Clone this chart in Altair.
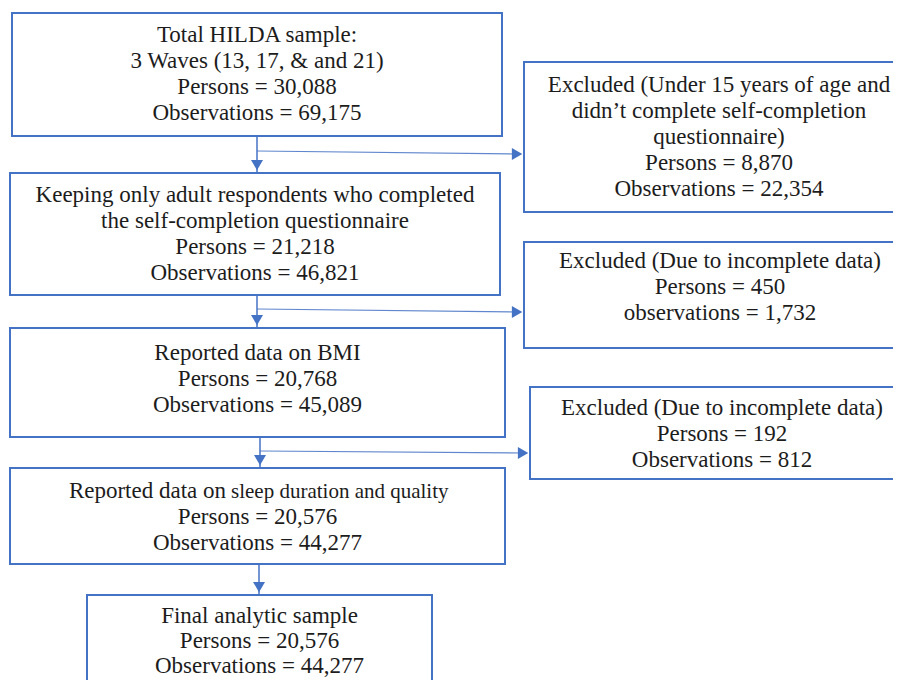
import altair as alt
import pandas as pd

# ---------------- content (text of the flow chart) ----------------
main_titles = [
    ["Total HILDA sample:", "3 Waves (13, 17, & and 21)"],
    ["Keeping only adult respondents who completed", "the self-completion questionnaire"],
    ["Reported data on BMI"],
    [],  # title of this step is written in two font sizes (see below)
    ["Final analytic sample"],
]
sleep_title_parts = ["Reported data on", "sleep duration and quality"]
main_persons = ["30,088", "21,218", "20,768", "20,576", "20,576"]
main_observations = ["69,175", "46,821", "45,089", "44,277", "44,277"]

excl_titles = [
    ["Excluded (Under 15 years of age and", "didn\u2019t complete self-completion", "questionnaire)"],
    ["Excluded (Due to incomplete data)"],
    ["Excluded (Due to incomplete data)"],
]
excl_persons = ["8,870", "450", "192"]
excl_obs_label = ["Observations", "observations", "Observations"]
excl_observations = ["22,354", "1,732", "812"]

# ---------------- layout (page pixel coordinates) ----------------
main_box = [(12, 502, 13, 136), (10, 500, 173, 295), (10, 505, 328, 437),
            (10, 505, 468, 564), (87, 432, 595, 720)]
main_text_x = [257, 255, 257.5, 257.5, 259.5]
main_first_baseline = [42, 202, 360, 498, 623]
main_line = [26, 26, 26, 26, 25]
excl_box = [(524, 960, 62, 212), (524, 960, 242, 348), (530, 960, 387, 479)]
excl_text_x = [719, 720, 722]
excl_first_baseline = [92, 268, 415]
LINE = 26

vert_conn = [(257, 136, 172), (257, 295, 327), (260, 437, 467), (259, 564, 594)]
branch_conn = [(257, 151, 524, 154), (257, 309, 524, 312), (260, 451, 530, 453)]

BLUE = "#4472C4"
TXT = "#1c1c1c"
FONT = "'Liberation Serif', 'Times New Roman', Times, 'DejaVu Serif', serif"

# ---------------- build tables ----------------
boxes = pd.DataFrame(
    [dict(x=a, x2=b, y=c, y2=d) for (a, b, c, d) in main_box + excl_box])

text_rows = []
for i in range(len(main_box)):
    lines = main_titles[i] + [f"Persons = {main_persons[i]}",
                              f"Observations = {main_observations[i]}"]
    offset = 1 if i == 3 else 0
    for j, t in enumerate(lines):
        text_rows.append(dict(x=main_text_x[i], y=main_first_baseline[i] + (j + offset) * main_line[i], t=t))
for i in range(len(excl_box)):
    lines = excl_titles[i] + [f"Persons = {excl_persons[i]}",
                              f"{excl_obs_label[i]} = {excl_observations[i]}"]
    for j, t in enumerate(lines):
        text_rows.append(dict(x=excl_text_x[i], y=excl_first_baseline[i] + j * LINE, t=t))
texts = pd.DataFrame(text_rows)

split_left = pd.DataFrame([dict(x=226, y=main_first_baseline[3], t=sleep_title_parts[0])])
split_right = pd.DataFrame([dict(x=231, y=main_first_baseline[3], t=sleep_title_parts[1])])

vlines = pd.DataFrame([dict(x=a, y=b, x2=a, y2=c) for (a, b, c) in vert_conn])
hlines = pd.DataFrame([dict(x=a, y=b, x2=c - 4, y2=d) for (a, b, c, d) in branch_conn])

HEAD = 144
H = 0.577 * HEAD ** 0.5
heads = pd.DataFrame(
    [dict(x=a, y=c - H, s="triangle-down") for (a, b, c) in vert_conn]
    + [dict(x=c - H, y=d, s="triangle-right") for (a, b, c, d) in branch_conn])

xs = alt.Scale(domain=[8, 893], nice=False, zero=False)
ys = alt.Scale(domain=[8, 680], nice=False, zero=False, reverse=True)
X = lambda f="x": alt.X(f"{f}:Q", scale=xs, axis=None)
Y = lambda f="y": alt.Y(f"{f}:Q", scale=ys, axis=None)

box_layer = alt.Chart(boxes).mark_rect(fill="white", stroke=BLUE, strokeWidth=2, clip=True).encode(
    x=X(), x2="x2:Q", y=Y(), y2="y2:Q")

vline_layer = alt.Chart(vlines).mark_rule(color=BLUE, strokeWidth=1.5).encode(
    x=X(), x2="x2:Q", y=Y(), y2="y2:Q")
hline_layer = alt.Chart(hlines).mark_rule(color=BLUE, strokeWidth=1.1, opacity=0.85).encode(
    x=X(), x2="x2:Q", y=Y(), y2="y2:Q")

head_layer = alt.Chart(heads).mark_point(filled=True, size=HEAD, color=BLUE, opacity=1).encode(
    x=X(), y=Y(), shape=alt.Shape("s:N", scale=None))

text_layer = alt.Chart(texts).mark_text(font=FONT, fontSize=23, color=TXT, align="center",
                                        baseline="alphabetic").encode(
    x=X(), y=Y(), text="t:N")
split_l_layer = alt.Chart(split_left).mark_text(font=FONT, fontSize=23, color=TXT, align="right",
                                                baseline="alphabetic").encode(
    x=X(), y=Y(), text="t:N")
split_r_layer = alt.Chart(split_right).mark_text(font=FONT, fontSize=21, color=TXT, align="left",
                                                 baseline="alphabetic").encode(
    x=X(), y=Y(), text="t:N")

chart = alt.layer(box_layer, vline_layer, hline_layer, head_layer,
                  text_layer, split_l_layer, split_r_layer).properties(
    width=885, height=672, padding=0,
    autosize=alt.AutoSizeParams(type="none"),
    background="white",
).configure_view(stroke=None)

chart.save("out.html", embed_options={"renderer": "svg", "actions": False})
